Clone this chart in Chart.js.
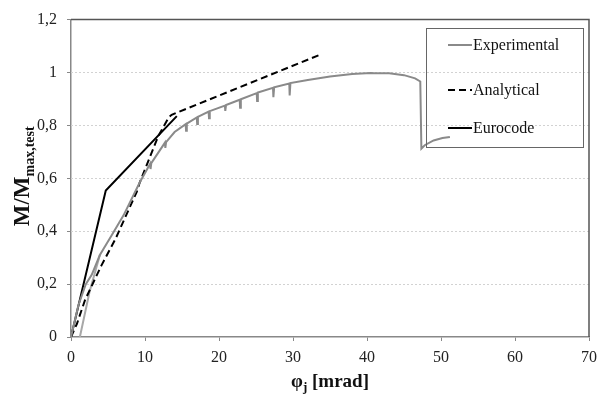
<!DOCTYPE html>
<html>
<head>
<meta charset="utf-8">
<script src="https://cdn.jsdelivr.net/npm/chart.js@4/dist/chart.umd.min.js"></script>
<style>
html,body{margin:0;padding:0;background:#fff;}
#wrap{width:611px;height:394px;position:relative;}
</style>
</head>
<body>
<div id="wrap"><canvas id="c" width="611" height="394"></canvas></div>
<script>
// ---- data ----
const seriesNames = ['Experimental', 'Analytical', 'Eurocode'];

const expX = [0, 1, 2, 2.8, 3.9, 5.5, 7.1, 9.3, 10.7, 10.75, 10.85, 12.7, 12.75, 12.85, 14, 15.5, 15.55, 15.65, 17, 17.05, 17.15, 18.6, 18.65, 18.75, 20.8, 20.85, 20.95, 22.8, 22.85, 22.95, 25.1, 25.15, 25.25, 27.3, 27.35, 27.45, 29.5, 29.55, 29.65, 32, 35, 38, 40.5, 41, 43, 45, 46.5, 47.2, 47.35, 47.8, 49, 50.2, 51.2];
const expY = [0, 0.12, 0.2, 0.235, 0.31, 0.385, 0.46, 0.585, 0.655, 0.635, 0.657, 0.735, 0.715, 0.737, 0.775, 0.805, 0.78, 0.807, 0.83, 0.805, 0.832, 0.852, 0.827, 0.854, 0.875, 0.855, 0.877, 0.897, 0.867, 0.899, 0.922, 0.892, 0.924, 0.942, 0.907, 0.944, 0.958, 0.913, 0.96, 0.972, 0.985, 0.994, 0.998, 0.997, 0.997, 0.99, 0.978, 0.966, 0.712, 0.725, 0.743, 0.752, 0.756];

const expReloadX = [1.2, 2.5, 3.9];
const expReloadY = [0, 0.17, 0.31];

const anaX = [0, 0.8, 1.9, 4.1, 6, 8.9, 9.3, 11.8, 13.2, 13.6, 33.9];
const anaY = [0, 0.05, 0.14, 0.27, 0.37, 0.55, 0.585, 0.76, 0.83, 0.84, 1.07];

const euroX = [0, 4.7, 14.3];
const euroY = [0, 0.554, 0.835];

const xTicks = [0, 10, 20, 30, 40, 50, 60, 70];
const yTicks = [0, 0.2, 0.4, 0.6, 0.8, 1, 1.2];

// ---- helpers ----
const zip = (xs, ys) => xs.map((x, i) => ({x: x, y: ys[i]}));
const fmtY = v => String(Math.round(v * 10) / 10).replace('.', ',');

Chart.defaults.font.family = '"Liberation Serif", "Times New Roman", serif';
Chart.defaults.color = '#222';

const GRAY = '#8a8a8a';

const framePlugin = {
  id: 'frame',
  beforeDatasetsDraw(chart) {
    const {ctx, chartArea: a, scales: {y}} = chart;
    ctx.save();
    ctx.strokeStyle = '#d2d2d2';
    ctx.lineWidth = 1;
    ctx.setLineDash([2, 2]);
    yTicks.forEach(v => {
      if (v <= 0 || v >= 1.2) return;
      const py = Math.round(y.getPixelForValue(v)) + 0.5;
      ctx.beginPath();
      ctx.moveTo(a.left, py);
      ctx.lineTo(a.right, py);
      ctx.stroke();
    });
    ctx.setLineDash([]);
    ctx.strokeStyle = '#555';
    ctx.lineWidth = 1.5;
    ctx.beginPath();
    ctx.moveTo(a.left, a.top);
    ctx.lineTo(a.right, a.top);
    ctx.lineTo(a.right, a.bottom);
    ctx.stroke();
    ctx.restore();
  }
};

const legendPlugin = {
  id: 'boxLegend',
  afterDatasetsDraw(chart) {
    const {ctx} = chart;
    const bx = 426, by = 28, bw = 157, bh = 119;
    ctx.save();
    ctx.strokeStyle = '#666';
    ctx.lineWidth = 1;
    ctx.strokeRect(bx + 0.5, by + 0.5, bw, bh);
    const rows = [45, 90, 128];
    ctx.font = '16px "Liberation Serif", serif';
    ctx.textBaseline = 'middle';
    ctx.fillStyle = '#111';
    seriesNames.forEach((name, i) => {
      const ds = chart.data.datasets[i];
      ctx.strokeStyle = ds.borderColor;
      ctx.lineWidth = ds.borderWidth;
      ctx.setLineDash(ds.borderDash || []);
      ctx.beginPath();
      ctx.moveTo(448, rows[i]);
      ctx.lineTo(472, rows[i]);
      ctx.stroke();
      ctx.setLineDash([]);
      ctx.fillText(name, 473, rows[i] + 1);
    });
    ctx.restore();
  }
};

const titlePlugin = {
  id: 'axisTitles',
  afterDraw(chart) {
    const {ctx, chartArea: a} = chart;
    ctx.save();
    ctx.fillStyle = '#111';
    // x title: φj [mrad]
    const big = 'bold 19px "Liberation Serif", serif';
    const sub = 'bold 13px "Liberation Serif", serif';
    ctx.font = big;
    const w1 = ctx.measureText('φ').width;
    const w3 = ctx.measureText(' [mrad]').width;
    ctx.font = sub;
    const w2 = ctx.measureText('j').width;
    let x0 = (a.left + a.right) / 2 - (w1 + w2 + w3) / 2;
    const base = 387;
    ctx.textBaseline = 'alphabetic';
    ctx.font = big; ctx.fillText('φ', x0, base);
    ctx.font = sub; ctx.fillText('j', x0 + w1, base + 4);
    ctx.font = big; ctx.fillText(' [mrad]', x0 + w1 + w2, base);

    // y title: M/M max,test
    const bigY = 'bold 23px "Liberation Serif", serif';
    const subY = 'bold 14px "Liberation Serif", serif';
    ctx.font = bigY;
    const m1 = ctx.measureText('M/M').width;
    ctx.font = subY;
    const m2 = ctx.measureText('max,test').width;
    const cy = (a.top + a.bottom) / 2 - 2;
    ctx.translate(29, cy);
    ctx.rotate(-Math.PI / 2);
    const s = -(m1 + m2) / 2;
    ctx.font = bigY; ctx.fillText('M/M', s, 0);
    ctx.font = subY; ctx.fillText('max,test', s + m1, 5);
    ctx.restore();
  }
};

new Chart(document.getElementById('c'), {
  type: 'scatter',
  data: {
    datasets: [
      {label: seriesNames[0], data: zip(expX, expY), showLine: true, borderColor: GRAY, borderWidth: 2, pointRadius: 0, tension: 0},
      {label: seriesNames[1], data: zip(anaX, anaY), showLine: true, borderColor: '#000', borderWidth: 2, borderDash: [7, 4], pointRadius: 0, tension: 0},
      {label: seriesNames[2], data: zip(euroX, euroY), showLine: true, borderColor: '#000', borderWidth: 2, pointRadius: 0, tension: 0},
      {label: 'reload', data: zip(expReloadX, expReloadY), showLine: true, borderColor: '#a8a8a8', borderWidth: 2, pointRadius: 0, tension: 0}
    ]
  },
  options: {
    responsive: false,
    animation: false,
    events: [],
    layout: {padding: {top: 15, right: 22, left: 0, bottom: 0}},
    plugins: {legend: {display: false}, tooltip: {enabled: false}},
    scales: {
      x: {
        type: 'linear', min: 0, max: 70,
        afterBuildTicks: s => { s.ticks = xTicks.map(v => ({value: v})); },
        afterFit: s => { s.height = 57; },
        grid: {drawOnChartArea: false, drawTicks: true, tickLength: 4, tickColor: '#888'},
        border: {display: true, color: '#888', width: 1.5},
        ticks: {font: {size: 16}, color: '#222', padding: 7, maxRotation: 0}
      },
      y: {
        type: 'linear', min: 0, max: 1.2,
        afterBuildTicks: s => { s.ticks = yTicks.map(v => ({value: v})); },
        afterFit: s => { s.width = 71; },
        grid: {drawOnChartArea: false, drawTicks: true, tickLength: 4, tickColor: '#888'},
        border: {display: true, color: '#888', width: 1.5},
        ticks: {font: {size: 16}, color: '#222', padding: 10, callback: v => fmtY(v)}
      }
    }
  },
  plugins: [framePlugin, legendPlugin, titlePlugin]
});
</script>
</body>
</html>
